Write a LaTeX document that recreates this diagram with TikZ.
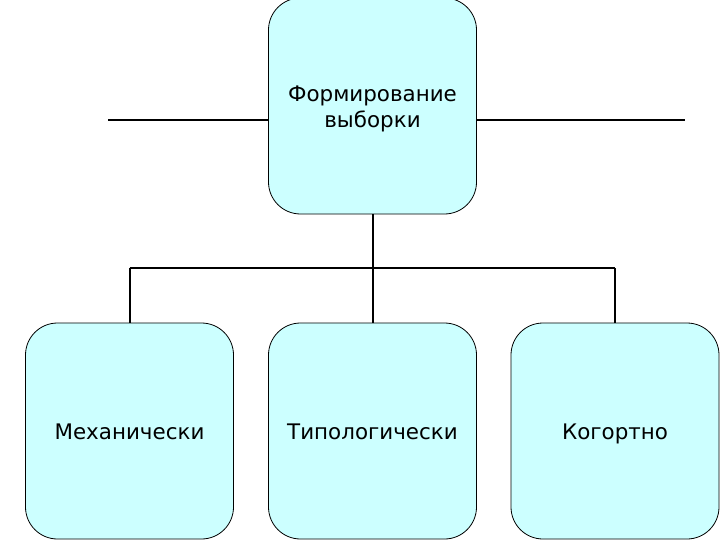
\documentclass[tikz,border=0pt]{standalone}
\usepackage{fontspec}
\setmainfont{DejaVu Sans}
\usetikzlibrary{positioning}
\definecolor{boxcyan}{HTML}{CCFFFF}
\tikzset{
  sortbox/.style={draw=black, line width=0.8bp, fill=boxcyan, rounded corners=32bp,
    minimum width=208bp, minimum height=216bp, inner sep=0pt, align=center,
    text height=22bp, text depth=5bp, font=\fontsize{21.5}{26.5}\selectfont},
  link/.style={draw=black, line width=2bp},
}

\begin{document}
\begin{tikzpicture}[x=1bp,y=-1bp]
\useasboundingbox (0,0) rectangle (720,540);

\node[sortbox, text height=48bp] (top) at (372.5,106) {Формирование\\выборки};
\node[sortbox] (mech) at (129.5,431) {Механически};
\node[sortbox] (typo) at (372.5,431) {Типологически};
\node[sortbox] (kog) at (615,431) {Когортно};

% side lines
\coordinate (lend) at (108,120);
\coordinate (rend) at (685,120);
\draw[line width=1.4bp] (lend) -- (lend -| top.west);
\draw[line width=1.4bp] (rend -| top.east) -- (rend);

% tree
\coordinate (bus) at (372.5,268);
\draw[link] (top.south) -- (bus);
\draw[link] (bus -| mech.north) -- (bus -| kog.north);
\draw[link] (bus -| mech.north) -- (mech.north);
\draw[link] (bus) -- (typo.north);
\draw[link] (bus -| kog.north) -- (kog.north);

\end{tikzpicture}
\end{document}
